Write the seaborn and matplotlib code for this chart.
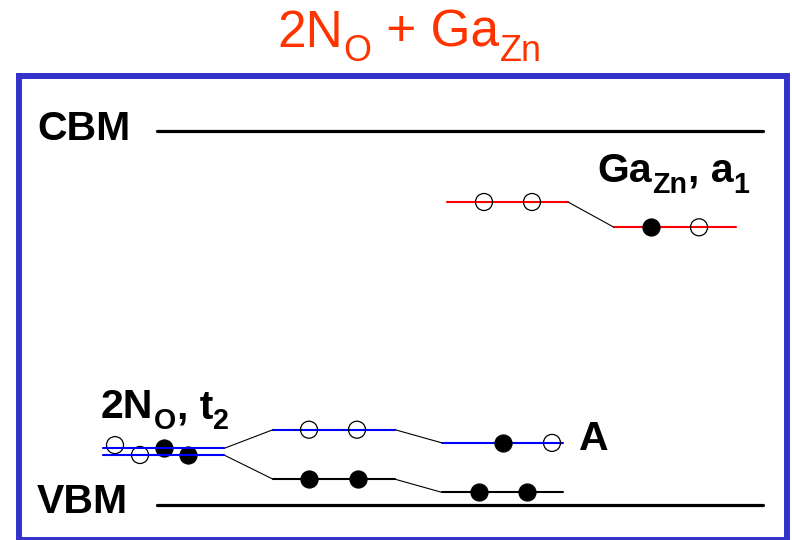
import matplotlib
matplotlib.use("Agg")
import matplotlib.pyplot as plt
import matplotlib.transforms as mtransforms
import seaborn as sns
import pandas as pd

# Energies in eV relative to the valence band maximum
gap = 3.4
vbm_E = 0.0
cbm_E = gap

# Defect levels: horizontal extent on the configuration axis, energy, colour
seg_x0 = [103, 103, 273, 442, 273, 442, 447, 614]
seg_x1 = [224, 224, 395, 563, 395, 563, 568, 736]
seg_E = [0.51, 0.45, 0.68, 0.56, 0.23, 0.11, 2.75, 2.52]
seg_color = ["#0000ff", "#0000ff", "#0000ff", "#0000ff", "black", "black", "#ff0000", "#ff0000"]

# Which level flows into which (end of first -> start of second)
links = [(0, 2), (1, 4), (2, 3), (4, 5), (6, 7)]

# Electrons (filled) and holes (open) sitting on the levels
el_x = [115, 140, 164, 188, 309, 357, 309, 358, 503, 552, 479, 527, 484, 532, 651, 699]
el_E = [0.54, 0.45, 0.51, 0.45, 0.68, 0.68, 0.23, 0.23, 0.56, 0.56, 0.11, 0.11, 2.75, 2.75, 2.52, 2.52]
el_filled = [False, False, True, True, False, False, True, True, True, False, True, True,
             False, False, True, False]

band_x = [157, 763]

# Rich labels: (text, is_subscript)
title_parts = [("2N", False), ("O", True), (" + Ga", False), ("Zn", True)]
t2_parts = [("2N", False), ("O", True), (", t", False), ("2", True)]
a1_parts = [("Ga", False), ("Zn", True), (", a", False), ("1", True)]

sns.set_theme(style="white")
plt.rcParams["font.family"] = ["Liberation Sans", "DejaVu Sans"]

fig = plt.figure(figsize=(7.92, 5.4), dpi=100)
ax = fig.add_axes([19 / 792, 0, 768 / 792, 464 / 540])
renderer = fig.canvas.get_renderer()

px_per_eV = 110.0
vbm_px = 504.5
ax.set_xlim(19, 787)
ax.set_ylim((vbm_px - 540) / px_per_eV, (vbm_px - 76) / px_per_eV)
ax.set_xticks([])
ax.set_yticks([])
for sp in ax.spines.values():
    sp.set_color("#3333cc")
    sp.set_linewidth(4.3)
    sp.set_visible(True)

# Band edges
for E in (cbm_E, vbm_E):
    sns.lineplot(x=band_x, y=[E, E], color="black", linewidth=2.3, ax=ax)

# Levels
for i, (x0, x1, E, c) in enumerate(zip(seg_x0, seg_x1, seg_E, seg_color)):
    z = 4 if i < 2 else 2
    sns.lineplot(x=[x0, x1], y=[E, E], color=c, linewidth=1.5, ax=ax, zorder=z)

# Connectors between levels
for a, b in links:
    sns.lineplot(x=[seg_x1[a], seg_x0[b]], y=[seg_E[a], seg_E[b]],
                 color="black", linewidth=0.8, ax=ax, zorder=2, sort=False)

# Occupation
df = pd.DataFrame({"x": el_x, "E": el_E, "filled": el_filled})
sns.scatterplot(data=df[df.filled], x="x", y="E", s=150, color="black",
                edgecolor="black", linewidth=0.9, ax=ax, zorder=3, legend=False)
sns.scatterplot(data=df[~df.filled], x="x", y="E", s=150, facecolor="none",
                edgecolor="black", linewidth=0.9, ax=ax, zorder=3, legend=False)
ax.set_xlabel("")
ax.set_ylabel("")


def rich_text(x, y, parts, size, transform, **kw):
    """Write text pieces side by side, dropping subscripts below the baseline."""
    em = size * fig.dpi / 72
    dx = 0.0
    for s, sub in parts:
        fs = size * 0.7 if sub else size
        dy = -0.27 * em if sub else 0.0
        tr = mtransforms.offset_copy(transform, fig=fig, x=dx, y=dy, units="dots")
        t = fig.text(x, y, s, fontsize=fs, transform=tr, va="baseline", ha="left", **kw)
        w = t.get_window_extent(renderer).width
        dx += w + 0.012 * em


lab = dict(fontsize=29.5, fontweight="bold", color="black", va="baseline", ha="left")
ax.text(37, cbm_E - 9 / px_per_eV, "CBM", **lab)
ax.text(37, vbm_E - 8.5 / px_per_eV, "VBM", **lab)
ax.text(579, 0.495, "A", **lab)
rich_text(101, 0.786, t2_parts, 29.5, ax.transData, fontweight="bold", color="black")
rich_text(597, 2.935, a1_parts, 29.5, ax.transData, fontweight="bold", color="black")

rich_text(277 / 792, 1 - 46.7 / 540, title_parts, 37, fig.transFigure, color="#ff3300")

fig.savefig("out.png", dpi=100)
